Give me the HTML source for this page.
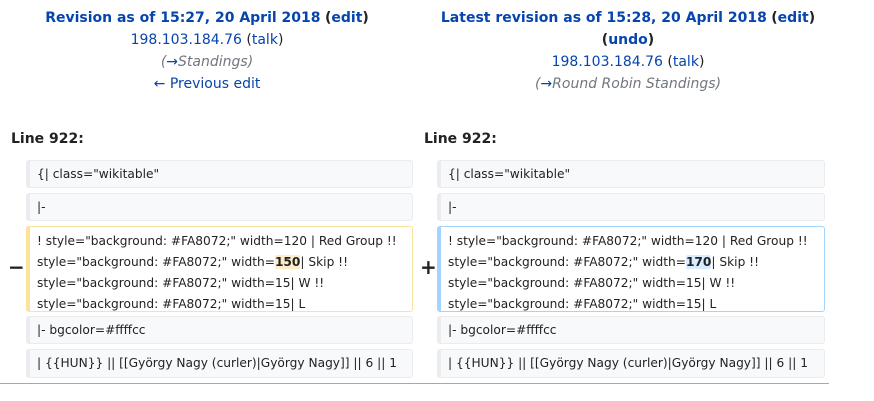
<!DOCTYPE html>
<html><head><meta charset="utf-8"><style>
body{margin:0;width:874px;height:401px;background:#fff;font-family:"DejaVu Sans","Liberation Sans",sans-serif;font-size:14px;color:#222;position:relative;overflow:hidden}
.hd{position:absolute;top:7px;text-align:center;line-height:22px}
.hd b{color:#0645ad}
a{color:#0645ad;text-decoration:none}
.i{color:#72777d;font-style:italic}
.ln{position:absolute;top:131px;font-weight:bold;font-size:14px}
.bx{position:absolute;box-sizing:border-box;background:#f8f9fa;border:1px solid #eaecf0;border-left:4px solid #eaecf0;border-radius:3px;padding:0 0 0 7px;line-height:27px;white-space:nowrap;font-size:12.2px;overflow:hidden}
.ch{background:#fff;line-height:21px;padding-top:4px}
.del{border-color:#fde29b}
.add{border-color:#a3d3ff}
.m{background:#feeec8;font-weight:bold;border-radius:2px}
.a{background:#d8ecff;font-weight:bold;border-radius:2px}
.sg{position:absolute;font-size:20px;font-weight:bold}
</style></head><body>
<div class="hd" style="left:0;width:414px"><b>Revision as of 15:27, 20 April 2018</b> <b style="color:#222">(<span style="color:#0645ad">edit</span>)</b><br><a>198.103.184.76</a> (<a>talk</a>)<br><span class="i">(<a>→</a>Standings)</span><br><a>← Previous edit</a></div>
<div class="hd" style="left:420px;width:416px"><b>Latest revision as of 15:28, 20 April 2018</b> <b style="color:#222">(<span style="color:#0645ad">edit</span>)</b><br><b style="color:#222">(<span style="color:#0645ad">undo</span>)</b><br><a>198.103.184.76</a> (<a>talk</a>)<br><span class="i">(<a>→</a>Round Robin Standings)</span></div>
<div class="ln" style="left:11px">Line 922:</div>
<div class="ln" style="left:424px">Line 922:</div>

<div class="bx" style="left:26px;top:160px;width:387px;height:28px">{| class="wikitable"</div>
<div class="bx" style="left:26px;top:193px;width:387px;height:28px">|-</div>
<div class="bx ch del" style="left:26px;top:226px;width:387px;height:86px">! style="background: #FA8072;" width=120 | Red Group !!<br>style="background: #FA8072;" width=<span class="m">150</span>| Skip !!<br>style="background: #FA8072;" width=15| W !!<br>style="background: #FA8072;" width=15| L</div>
<div class="bx" style="left:26px;top:316px;width:387px;height:28px">|- bgcolor=#ffffcc</div>
<div class="bx" style="left:26px;top:349px;width:387px;height:29px">| {{HUN}} || [[György Nagy (curler)|György Nagy]] || 6 || 1</div>
<div class="sg" style="left:8px;top:255px">−</div>

<div class="bx" style="left:437px;top:160px;width:388px;height:28px">{| class="wikitable"</div>
<div class="bx" style="left:437px;top:193px;width:388px;height:28px">|-</div>
<div class="bx ch add" style="left:437px;top:226px;width:388px;height:86px">! style="background: #FA8072;" width=120 | Red Group !!<br>style="background: #FA8072;" width=<span class="a">170</span>| Skip !!<br>style="background: #FA8072;" width=15| W !!<br>style="background: #FA8072;" width=15| L</div>
<div class="bx" style="left:437px;top:316px;width:388px;height:28px">|- bgcolor=#ffffcc</div>
<div class="bx" style="left:437px;top:349px;width:388px;height:29px">| {{HUN}} || [[György Nagy (curler)|György Nagy]] || 6 || 1</div>
<div class="sg" style="left:420px;top:255px">+</div>

<div style="position:absolute;left:0;top:383px;width:829px;height:1px;background:#a2a9b1"></div>
</body></html>
